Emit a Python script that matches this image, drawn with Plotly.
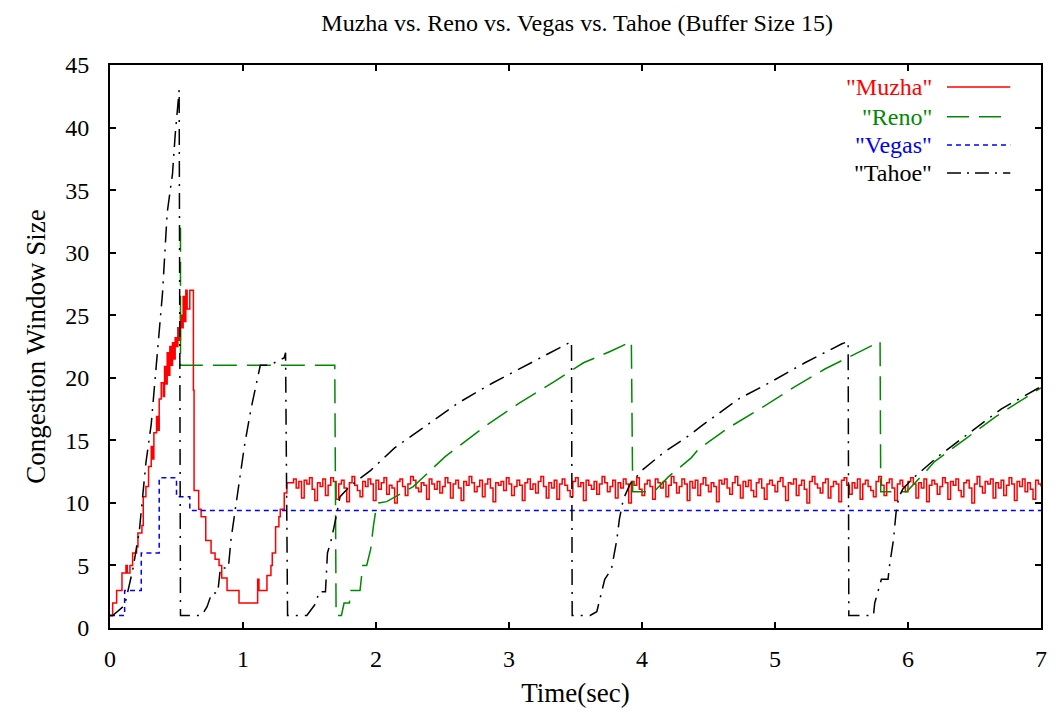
import numpy as np
import plotly.graph_objects as go

# ---------------- data ----------------
title_text = "Muzha vs. Reno vs. Vegas vs. Tahoe (Buffer Size 15)"
series_names = ['"Muzha"', '"Reno"', '"Vegas"', '"Tahoe"']

# Muzha: start-up part
muzha_t_head = [0.00, 0.02, 0.05, 0.09, 0.12, 0.13, 0.15, 0.17, 0.20, 0.21, 0.24, 0.25, 0.27,
                0.29, 0.31, 0.32, 0.33, 0.35, 0.36, 0.37, 0.385, 0.40, 0.41, 0.42, 0.43, 0.44,
                0.45, 0.46, 0.47, 0.48, 0.49, 0.50, 0.51, 0.52, 0.53, 0.54, 0.55, 0.56, 0.57,
                0.58, 0.60, 0.627, 0.632, 0.667, 0.685, 0.72, 0.76, 0.79, 0.82, 0.84, 0.88,
                0.97, 1.11, 1.12, 1.18, 1.21, 1.22, 1.245, 1.27, 1.28, 1.31, 1.33]
muzha_y_head = [1, 2, 3, 4.4, 5, 4.4, 5, 6, 6.5, 7.6, 8.2, 10.5, 11.3,
                12.9, 14.5, 13.5, 15.6, 16.9, 15.8, 18.3, 19.6, 18.5, 20.9, 19.5, 22, 20.2,
                22.5, 21, 22.8, 21.5, 23.2, 22.5, 24, 23, 25, 24, 26.5, 24.5, 27,
                25.5, 27, 19, 11, 9.5, 8.9, 7, 6, 5.5, 5, 4, 3,
                2, 3.9, 3, 4.2, 5, 6, 8.1, 8.9, 9.5, 10.8, 11.6]

# Muzha: steady-state oscillation, sampled every 0.02 s from 1.36 s
muzha_noise_start = 1.36
muzha_noise_step = 0.02
muzha_noise = [
    11.6, 11.9, 11.2, 11.7, 10.4, 11.8, 11.5, 12.0, 11.1, 10.2, 11.6, 11.3, 11.9, 10.6, 11.4, 12.0, 11.7, 10.3, 11.5, 11.8,
    11.2, 10.1, 11.6, 12.1, 11.4, 11.0, 10.5, 11.7, 11.3, 11.9, 11.5, 10.2, 11.8, 11.1, 11.6, 12.0, 10.7, 11.4, 11.2, 10.0,
    11.7, 11.9, 11.3, 10.6, 11.5, 12.1, 11.8, 11.2, 10.9, 11.6, 11.4, 10.3, 11.9, 11.5, 11.1, 11.7, 10.8, 11.3, 12.0, 11.6,
    10.4, 11.5, 11.8, 11.2, 10.2, 11.7, 11.4, 12.1, 11.6, 10.9, 11.3, 11.8, 10.5, 11.5, 11.9, 11.2, 10.1, 11.6, 11.4, 11.7,
    11.0, 12.0, 11.5, 10.6, 11.3, 11.8, 11.4, 10.2, 11.6, 11.9, 11.1, 11.5, 10.8, 11.7, 12.1, 11.3, 10.4, 11.6, 11.2, 11.8,
    10.3, 11.5, 11.9, 11.4, 11.0, 10.5, 11.7, 12.0, 11.3, 11.6, 10.2, 11.8, 11.4, 11.1, 11.7, 10.7, 11.5, 12.1, 11.6, 10.9,
    11.3, 11.8, 10.4, 11.6, 11.2, 11.9, 11.5, 10.0, 11.7, 11.4, 12.0, 11.1, 10.6, 11.5, 11.8, 11.3, 10.3, 11.9, 11.6, 11.2,
    11.7, 10.5, 11.4, 12.1, 11.6, 10.8, 11.3, 11.9, 11.5, 10.2, 11.7, 11.2, 11.8, 10.6, 11.5, 12.0, 11.4, 10.9, 11.6, 11.3,
    10.1, 11.8, 11.5, 11.9, 11.2, 10.7, 11.6, 12.1, 11.4, 10.4, 11.7, 11.3, 11.8, 11.0, 10.5, 11.6, 11.9, 11.2, 10.3, 11.5,
    11.8, 11.4, 10.9, 11.7, 12.0, 11.3, 10.2, 11.6, 11.5, 11.9, 10.6, 11.4, 11.8, 11.1, 10.0, 11.7, 12.1, 11.5, 11.2, 10.8,
    11.6, 11.9, 10.4, 11.3, 11.7, 11.5, 10.1, 11.8, 12.0, 11.4, 10.7, 11.6, 11.2, 11.9, 10.3, 11.5, 11.8, 11.3, 11.0, 10.5,
    11.7, 12.1, 11.4, 10.6, 11.6, 11.9, 11.2, 10.2, 11.5, 11.8, 11.3, 10.9, 11.7, 12.0, 11.5, 10.4, 11.6, 11.2, 11.9, 10.1,
    11.4, 11.8, 11.5, 10.7, 11.3, 12.0, 11.6, 10.3, 11.7, 11.4, 11.9, 11.0, 10.5, 11.6, 11.8, 11.2, 10.0, 11.5, 12.1, 11.3,
    10.8, 11.7, 11.5, 11.9, 10.4, 11.6, 11.2, 11.8, 10.6, 11.4, 12.0, 11.5, 10.2, 11.7, 11.3, 11.9, 10.9, 11.6, 11.1, 10.3,
    11.8, 11.5, 11.3,
]

reno_t = [0.53, 0.53, 1.69, 1.70, 1.74, 1.76, 1.80, 1.81, 1.88, 1.90, 1.93, 1.96, 1.98, 2.00, 2.02,
          2.08, 2.28, 2.52, 2.83, 3.08, 3.34, 3.56, 3.76, 3.92, 3.93, 4.09, 4.20, 4.37, 4.425,
          4.65, 4.90, 5.15, 5.375, 5.625, 5.79, 5.795, 5.99, 6.125, 6.20, 6.43, 6.66, 7.00]
reno_y = [32, 21, 21, 1, 1, 2, 2, 3, 3, 5, 5, 6.3, 8.1, 9.5, 10,
          10.1, 11.3, 13.7, 16.2, 18.0, 19.7, 21.2, 22.1, 22.9, 10.9, 10.9, 12.1, 13.6, 14.3,
          16.0, 17.6, 19.3, 20.7, 22.0, 22.9, 10.9, 10.9, 12.4, 13.3, 15.1, 16.9, 19.2]

vegas_t = [0.00, 0.11, 0.235, 0.37, 0.50, 0.60, 7.00]
vegas_y = [1, 3, 6, 12, 10.5, 9.4, 9.4]

tahoe_t = [0.00, 0.02, 0.11, 0.17, 0.22, 0.27, 0.31, 0.36, 0.395, 0.43, 0.47, 0.49, 0.52, 0.53,
           0.69, 0.73, 0.765, 0.81, 0.83, 0.89, 0.91, 0.96, 1.01, 1.06, 1.10, 1.13, 1.20, 1.31,
           1.32, 1.335, 1.48, 1.55, 1.57, 1.62, 1.635, 1.66, 1.685, 1.71, 1.73, 1.80, 1.87, 1.96,
           2.14, 2.38, 2.62, 2.88, 3.11, 3.25, 3.39, 3.47, 3.475, 3.61, 3.66, 3.72, 3.77, 3.81,
           3.83, 3.86, 3.91, 4.00, 4.16, 4.355, 4.44, 4.725, 4.975, 5.225, 5.50, 5.55, 5.555,
           5.74, 5.75, 5.80, 5.85, 5.86, 5.89, 5.91, 5.93, 5.96, 6.03, 6.125, 6.225, 6.45, 6.70, 7.00]
tahoe_y = [1, 1, 1.8, 4.6, 7.7, 13.2, 16.3, 22.5, 26.8, 33.2, 36.3, 39.4, 43, 1,
           1, 1.7, 2.8, 2.8, 4.8, 4.8, 7.1, 10.8, 14.5, 17.5, 19.4, 21, 21, 21.6,
           22, 1, 1, 2, 2.9, 2.9, 6, 6.9, 8.1, 9.4, 10.5, 11.3, 11.9, 12.6,
           14.4, 16.2, 18.0, 19.6, 20.9, 21.7, 22.5, 22.9, 1, 1, 1.3, 3.9, 4.7, 7,
           8.7, 10.3, 11.5, 12.6, 14.0, 15.4, 16.1, 18.3, 19.7, 21.2, 22.7, 22.9, 1,
           1, 2, 3.9, 3.9, 4.9, 7, 9.2, 10.4, 11.1, 11.9, 12.8, 13.7, 15.5, 17.5, 19.3]

x_ticks = [0, 1, 2, 3, 4, 5, 6, 7]
y_ticks = [0, 5, 10, 15, 20, 25, 30, 35, 40, 45]

# ---------------- figure ----------------
muzha_t = list(muzha_t_head) + list(muzha_noise_start + muzha_noise_step * np.arange(len(muzha_noise)))
muzha_y = list(muzha_y_head) + list(muzha_noise)

colors = ["#ff0000", "#008a00", "#0000ff", "#000000"]
FONT = "Liberation Serif, Times New Roman, serif"

fig = go.Figure()
fig.add_trace(go.Scatter(x=muzha_t, y=muzha_y, mode="lines", line=dict(color=colors[0], width=1.5, shape="hv"),
                         name=series_names[0]))
fig.add_trace(go.Scatter(x=reno_t, y=reno_y, mode="lines", line=dict(color=colors[1], width=1.5, dash="24px,10px"),
                         name=series_names[1]))
fig.add_trace(go.Scatter(x=vegas_t, y=vegas_y, mode="lines", line=dict(color=colors[2], width=1.5, dash="5px,4px", shape="hv"),
                         name=series_names[2]))
fig.add_trace(go.Scatter(x=tahoe_t, y=tahoe_y, mode="lines", line=dict(color=colors[3], width=1.5, dash="16px,7px,2px,7px"),
                         name=series_names[3]))

# gnuplot-style legend: text right-aligned, sample line on the right
leg_y = [0.961, 0.908, 0.858, 0.808]
dashes = ["solid", "22px,10px", "5px,4px", "14px,6px,2px,6px"]
annotations = []
shapes = []
for name, c, yy, d in zip(series_names, colors, leg_y, dashes):
    annotations.append(dict(x=0.885, y=yy, xref="paper", yref="paper", text=name, showarrow=False,
                            xanchor="right", yanchor="middle", font=dict(family=FONT, size=24, color=c)))
    shapes.append(dict(type="line", xref="paper", yref="paper", x0=0.899, x1=0.967, y0=yy, y1=yy,
                       line=dict(color=c, width=1.5, dash=d)))

fig.update_layout(
    width=1058, height=715,
    margin=dict(l=110, r=11, t=65, b=87),
    paper_bgcolor="white", plot_bgcolor="white",
    showlegend=False,
    title=dict(text=title_text, x=0.5455, xanchor="center", y=0.968, yanchor="middle",
               font=dict(family=FONT, size=24, color="black")),
    font=dict(family=FONT, color="black"),
    annotations=annotations,
    shapes=shapes,
)
fig.update_xaxes(range=[0, 7], tickvals=x_ticks, ticktext=[str(v) for v in x_ticks],
                 showgrid=False, zeroline=False, showline=True, linecolor="black", linewidth=2,
                 mirror="ticks", ticks="inside", ticklen=6, tickwidth=1.5, tickcolor="black",
                 tickfont=dict(family=FONT, size=24), ticklabelstandoff=8,
                 title=dict(text="Time(sec)", font=dict(family=FONT, size=27), standoff=12))
fig.update_yaxes(range=[0, 45], tickvals=y_ticks, ticktext=[str(v) for v in y_ticks],
                 showgrid=False, zeroline=False, showline=True, linecolor="black", linewidth=2,
                 mirror="ticks", ticks="inside", ticklen=6, tickwidth=1.5, tickcolor="black",
                 tickfont=dict(family=FONT, size=24), ticklabelstandoff=14,
                 title=dict(text="Congestion Window Size", font=dict(family=FONT, size=27), standoff=12))

fig.write_html("out.html")
